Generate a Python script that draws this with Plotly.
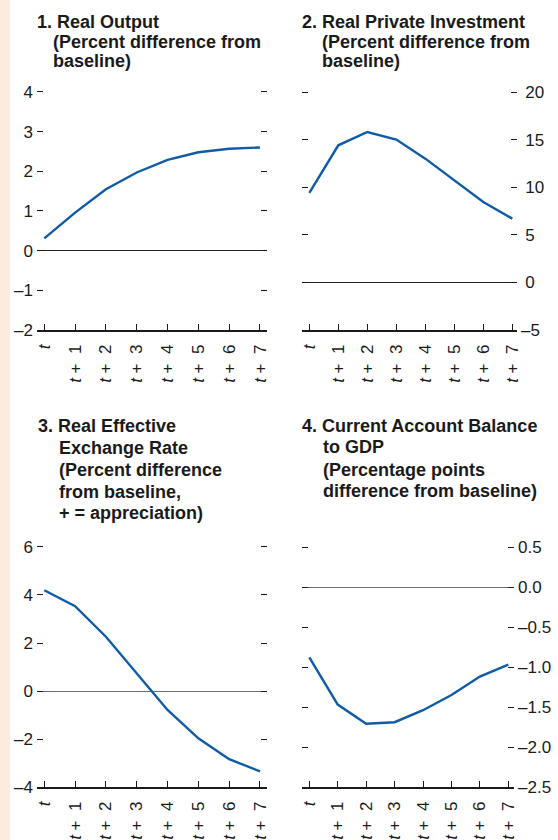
import plotly.graph_objects as go

# ---------------- data ----------------
periods = ["<i>t</i>", "<i>t</i> + \u00a01", "<i>t</i> + \u00a02", "<i>t</i> + \u00a03",
           "<i>t</i> + \u00a04", "<i>t</i> + \u00a05", "<i>t</i> + \u00a06", "<i>t</i> + \u00a07"]

real_output = [0.31, 0.96, 1.55, 1.97, 2.29, 2.48, 2.57, 2.60]
real_investment = [9.4, 14.4, 15.8, 15.0, 13.0, 10.7, 8.45, 6.7]
reer = [4.2, 3.53, 2.26, 0.75, -0.79, -1.97, -2.84, -3.35]
current_account = [-0.88, -1.47, -1.71, -1.69, -1.54, -1.35, -1.12, -0.97]

y1_ticks = [-2, -1, 0, 1, 2, 3, 4]
y1_labels = ["\u20132", "\u20131", "0", "1", "2", "3", "4"]
y2_ticks = [-5, 0, 5, 10, 15, 20]
y2_labels = ["\u20135", "\u20050", "\u20055", "\u200510", "\u200515", "\u200520"]
y3_ticks = [-4, -2, 0, 2, 4, 6]
y3_labels = ["\u20134", "\u20132", "0", "2", "4", "6"]
y4_ticks = [-2.5, -2.0, -1.5, -1.0, -0.5, 0.0, 0.5]
y4_labels = ["\u20132.5", "\u20132.0", "\u20131.5", "\u20131.0", "\u20130.5", "0.0", "0.5"]

title1 = ["1. Real Output", "(Percent difference from", "baseline)"]
title2 = ["2. Real Private Investment", "(Percent difference from", "baseline)"]
title3 = ["3. Real Effective", "Exchange Rate", "(Percent difference", "from baseline,",
          "+ = appreciation)"]
title4 = ["4. Current Account Balance", "to GDP", "(Percentage points",
          "difference from baseline)"]

# ---------------- layout helpers ----------------
W, H = 558, 840
FONT = "Liberation Sans, Arial, sans-serif"
TXT = "#1a1a1a"
BLUE = "#0f5ba6"


def px_x(p):
    return p / W


def px_y(p):
    return 1 - p / H


fig = go.Figure()

# small headroom (2 px) above the top tick so plotly does not clip the edge tick
panels = [
    # values, yticks, ylabels, yrange, x-domain px, y-domain px, x-range, side, zero color
    (real_output, y1_ticks, y1_labels, [-2, 4.05], (37, 267), (90, 330), [-0.237, 7.228], "left", "#222222"),
    (real_investment, y2_ticks, y2_labels, [-5, 20.21], (302, 517), (90, 330), [-0.252, 7.162], "right", "#222222"),
    (reer, y3_ticks, y3_labels, [-4, 6.083], (37, 267), (545, 787), [-0.237, 7.228], "left", "#6e6e6e"),
    (current_account, y4_ticks, y4_labels, [-2.5, 0.525], (302, 514), (545, 787), [-0.257, 7.2], "right", "#6e6e6e"),
]

for i, (vals, yt, yl, yr, xd, yd, xr, side, zc) in enumerate(panels, start=1):
    xa = "x" if i == 1 else f"x{i}"
    ya = "y" if i == 1 else f"y{i}"
    fig.add_trace(go.Scatter(x=periods, y=vals, mode="lines",
                             line=dict(color=BLUE, width=2.4),
                             xaxis=xa, yaxis=ya, showlegend=False, hoverinfo="skip"))
    xkey = "xaxis" if i == 1 else f"xaxis{i}"
    ykey = "yaxis" if i == 1 else f"yaxis{i}"
    fig.update_layout(**{
        xkey: dict(domain=[px_x(xd[0]), px_x(xd[1])], range=xr, anchor=ya,
                   type="category", categoryorder="array", categoryarray=periods,
                   showline=True, linecolor="#1a1a1a", linewidth=1.5,
                   ticks="inside", ticklen=6, tickwidth=1.2, tickcolor="#1a1a1a",
                   tickangle=-90, showgrid=False, zeroline=False, automargin=False,
                   tickfont=dict(family=FONT, size=17, color=TXT),
                   ticklabelstandoff=6, fixedrange=True),
        ykey: dict(domain=[px_y(yd[1]), px_y(yd[0])], range=yr, anchor=xa,
                   side=side, tickvals=yt, ticktext=yl, automargin=False,
                   ticks="inside", ticklen=6, tickwidth=1.2, tickcolor="#1a1a1a",
                   mirror="ticks", showline=False, showgrid=False,
                   zeroline=True, zerolinecolor=zc, zerolinewidth=1.3,
                   tickfont=dict(family=FONT, size=17, color=TXT),
                   ticklabelstandoff=3, fixedrange=True),
    })

annotations = []


def add_title(lines, x_first, x_rest, centers):
    for k, (txt, yc) in enumerate(zip(lines, centers)):
        annotations.append(dict(
            text=f"<b>{txt}</b>", xref="paper", yref="paper",
            x=px_x((x_first if k == 0 else x_rest) - 2), y=px_y(yc),
            xanchor="left", yanchor="middle", showarrow=False,
            font=dict(family=FONT, size=18, color=TXT)))


add_title(title1, 37, 53, [21.5, 41.5, 61.5])
add_title(title2, 302, 322, [21.5, 41.5, 61.5])
add_title(title3, 38, 59, [425.5, 447.5, 470, 491.5, 513])
add_title(title4, 302, 322.5, [425.5, 447, 469.5, 491])

fig.update_layout(
    width=W, height=H,
    margin=dict(l=0, r=0, t=0, b=0, autoexpand=False),
    paper_bgcolor="white", plot_bgcolor="white",
    annotations=annotations,
    shapes=[dict(type="rect", xref="paper", yref="paper", x0=0, x1=10 / W, y0=0, y1=1,
                 fillcolor="#fdebdc", line=dict(width=0), layer="below")],
    showlegend=False,
)

fig.write_html("out.html", config={"displayModeBar": False},
               post_script="document.body.style.margin='0';document.body.style.overflow='hidden';")
